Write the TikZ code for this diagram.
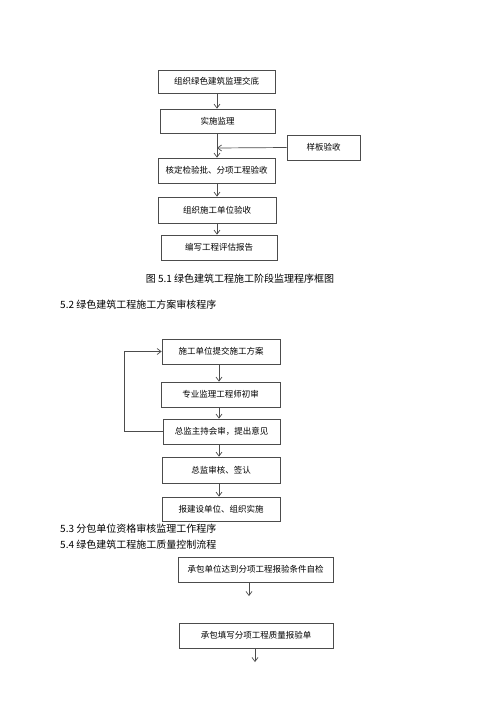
\documentclass[tikz,border=0pt]{standalone}
\usepackage{fontspec}
\setmainfont{Liberation Serif}
\newfontfamily\cjk{Noto Sans CJK SC}
\usetikzlibrary{arrows.meta}
\begin{document}
\begin{tikzpicture}[x=1pt,y=-1pt,
  bx/.style={draw=black!70,line width=0.7pt,inner sep=0pt,font=\cjk\fontsize{8.5}{9}\selectfont},
  arr/.style={draw=black!70,line width=0.7pt,-{Straight Barb[length=4pt,width=6pt]}},
  hd/.style={anchor=west,inner sep=0pt,font=\cjk\fontsize{10}{11}\selectfont}]
\useasboundingbox (0,0) rectangle (500,707);
\fill[white] (0,0) rectangle (500,707);
% chart 1
\node[bx,minimum width=117pt,minimum height=23pt] (b1) at (216.5,81.5) {组织绿色建筑监理交底};
\node[bx,minimum width=115pt,minimum height=24pt] (b2) at (217.5,121) {实施监理};
\node[bx,minimum width=73pt,minimum height=25pt] (s) at (323.5,147.5) {样板验收};
\node[bx,minimum width=117pt,minimum height=25pt] (b3) at (216.5,170.5) {核定检验批、分项工程验收};
\node[bx,minimum width=118pt,minimum height=26pt] (b4) at (217,210) {组织施工单位验收};
\node[bx,minimum width=116pt,minimum height=25pt] (b5) at (219,247.5) {编写工程评估报告};
\draw[arr] (b1.south -| 217,0) -- (b2.north -| 217,0);
\coordinate (j) at (217,148);
\draw[arr] (b2.south -| 217,0) -- (b3.north -| 217,0);
\draw[arr] (s.west) -- (j);
\draw[arr] (b3.south -| 217,0) -- (b4.north -| 217,0);
\draw[arr] (b4.south -| 217,0) -- (b5.north -| 217,0);
\node[inner sep=0pt,font=\cjk\fontsize{10}{11}\selectfont] (cap) at (240,279) {图 5.1 绿色建筑工程施工阶段监理程序框图};
\node[hd] (h2) at (60,305) {5.2 绿色建筑工程施工方案审核程序};
% chart 2
\node[bx,minimum width=118pt,minimum height=25pt] (c1) at (221,351.5) {施工单位提交施工方案};
\node[bx,minimum width=119pt,minimum height=25pt] (c2) at (220.5,394.5) {专业监理工程师初审};
\node[bx,minimum width=117pt,minimum height=25pt] (c3) at (221.5,431.5) {总监主持会审，提出意见};
\node[bx,minimum width=118pt,minimum height=26pt] (c4) at (221,470) {总监审核、签认};
\node[bx,minimum width=118pt,minimum height=24pt] (c5) at (221,509) {报建设单位、组织实施};
\draw[arr] (c1.south -| 219,0) -- (c2.north -| 219,0);
\draw[arr] (c2.south -| 219,0) -- (c3.north -| 219,0);
\draw[arr] (c3.south -| 219,0) -- (c4.north -| 219,0);
\draw[arr] (c4.south -| 219,0) -- (c5.north -| 219,0);
\coordinate (lp) at (124,0);
\draw[arr] (c3.west) -| (lp |- c3.west) |- (c1.west);
\node[hd] (h3) at (60,529) {5.3 分包单位资格审核监理工作程序};
\node[hd] (h4) at (60,545) {5.4 绿色建筑工程施工质量控制流程};
% chart 3
\node[bx,minimum width=155pt,minimum height=25pt] (d1) at (255.5,569.5) {承包单位达到分项工程报验条件自检};
\node[bx,minimum width=154pt,minimum height=25pt] (d2) at (256,635.5) {承包填写分项工程质量报验单};
\coordinate (e1) at (249,596);
\coordinate (e2) at (255,662);
\draw[arr] (d1.south -| e1) -- (e1);
\draw[arr] (d2.south -| e2) -- (e2);
\end{tikzpicture}
\end{document}
